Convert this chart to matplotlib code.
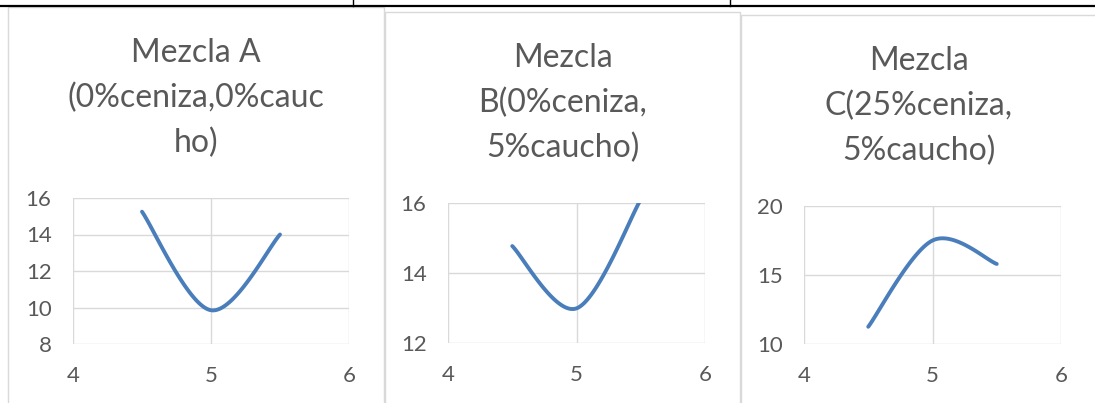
import numpy as np
import matplotlib
matplotlib.use("Agg")
import matplotlib.pyplot as plt
from matplotlib.patches import Rectangle
from matplotlib.lines import Line2D

# ---- data ----
x_vals = [4.5, 5.0, 5.5]
mezcla_a = [15.25, 9.85, 14.0]
mezcla_b = [14.77, 12.99, 16.1]
mezcla_c = [11.25, 17.5, 15.8]

titles = ["Mezcla A\n(0%ceniza,0%cauc\nho)",
          "Mezcla\nB(0%ceniza,\n5%caucho)",
          "Mezcla\nC(25%ceniza,\n5%caucho)"]
x_ticks = [4, 5, 6]
y_ticks_a = [8, 10, 12, 14, 16]
y_ticks_b = [12, 14, 16]
y_ticks_c = [10, 15, 20]

W, H = 1095, 403
FONT = "Lato"
GREY_TXT = "#595959"
GRID = "#D9D9D9"
LINE = "#4A7EBB"


def smooth(xs, ys, n=60):
    """Excel-like smoothed line: Catmull-Rom style cubic Bezier segments."""
    P = np.column_stack([xs, ys]).astype(float)
    ext = np.vstack([P[0], P, P[-1]])
    out = []
    t = np.linspace(0, 1, n)[:, None]
    for i in range(1, len(ext) - 2):
        p0, p1, p2, p3 = ext[i - 1], ext[i], ext[i + 1], ext[i + 2]
        c1 = p1 + (p2 - p0) / 6.0
        c2 = p2 - (p3 - p1) / 6.0
        seg = ((1 - t) ** 3) * p1 + 3 * ((1 - t) ** 2) * t * c1 + 3 * (1 - t) * t ** 2 * c2 + t ** 3 * p2
        out.append(seg if i == 1 else seg[1:])
    c = np.vstack(out)
    return c[:, 0], c[:, 1]


fig = plt.figure(figsize=(W / 100, H / 100), dpi=100)
fig.patch.set_facecolor("white")


def fx(px):
    return px / W


def fy(py):
    return 1 - py / H


# table lines (Word document)
fig.add_artist(Line2D([0, 1], [fy(6), fy(6)], color="black", lw=1.6, transform=fig.transFigure))
for xv in (353, 730):
    fig.add_artist(Line2D([fx(xv), fx(xv)], [fy(0), fy(6)], color="black", lw=1.0, transform=fig.transFigure))

# chart boxes: (left, top, right)
boxes = [(8, 7, 384), (385, 12, 740), (741, 15, 1100)]
for (l, t, r) in boxes:
    fig.add_artist(Rectangle((fx(l), fy(410)), fx(r) - fx(l), fy(t) - fy(410),
                             transform=fig.transFigure, facecolor="white",
                             edgecolor=GRID, lw=1.0, zorder=0))

# plot areas: (left, top, right, bottom) in px
areas = [(73, 198, 349, 344), (448, 203, 705, 343), (804, 206, 1061, 344)]
series = [mezcla_a, mezcla_b, mezcla_c]
yticks = [y_ticks_a, y_ticks_b, y_ticks_c]

for k in range(3):
    l, t, r, b = areas[k]
    ax = fig.add_axes([fx(l), fy(b), fx(r) - fx(l), fy(t) - fy(b)])
    ax.set_facecolor("none")
    ax.set_xlim(x_ticks[0], x_ticks[-1])
    ax.set_ylim(yticks[k][0], yticks[k][-1])
    ax.set_xticks(x_ticks)
    ax.set_yticks(yticks[k])
    ax.grid(True, color=GRID, lw=1.0)
    for s in ax.spines.values():
        s.set_visible(False)
    ax.tick_params(length=0, pad=15.5, labelsize=16, labelcolor=GREY_TXT)
    for lab in ax.get_xticklabels() + ax.get_yticklabels():
        lab.set_fontfamily(FONT)
    sx, sy = smooth(x_vals, series[k])
    ax.plot(sx, sy, color=LINE, lw=2.8, solid_capstyle="round")

    bl, bt, br = boxes[k]
    cx = (bl + min(br, 1096)) / 2
    fig.text(fx(cx), fy(bt + 31), titles[k], ha="center", va="top",
             multialignment="center", fontsize=23, family=FONT,
             color=GREY_TXT, linespacing=1.6)

fig.savefig("out.png", dpi=100, facecolor="white")
